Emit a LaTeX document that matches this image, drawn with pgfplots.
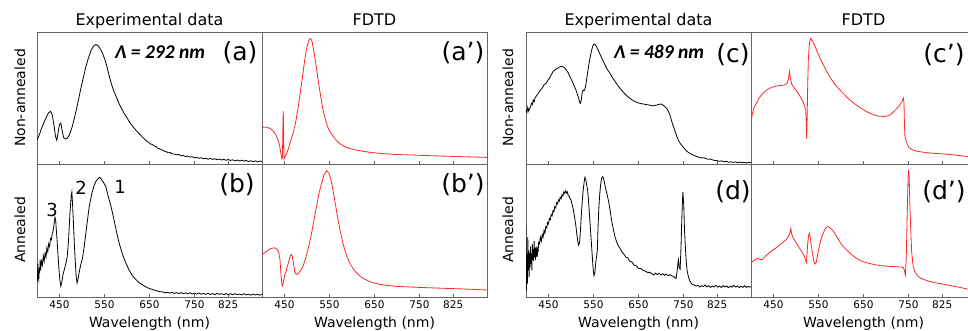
\documentclass[border=0pt]{standalone}
\usepackage{fontspec}
\setmainfont{DejaVu Sans}
\newfontfamily\carl{Carlito}
\usepackage{pgfplots}
\pgfplotsset{compat=1.18}
\definecolor{fr}{gray}{0.4}
\definecolor{fdtd}{rgb}{1,0.15,0.15}
\pgfplotsset{
 panel/.style={scale only axis, width=225pt, height=132pt, xmin=400, xmax=900, ymin=0, ymax=1,
   ytick=\empty, xtick={450,550,650,750,825}, xtick pos=left, tick align=inside, major tick length=3pt,
   axis line style={fr, line width=0.7pt}, tick style={fr, line width=0.6pt}, anchor=south west,
   tick label style={font=\fontsize{10.5}{12}\selectfont},
   /pgf/number format/assume math mode=true, /pgf/number format/1000 sep={}},
 top/.style={panel, xticklabels=\empty},
 bot/.style={panel, height=133pt},
 exp/.style={black, line width=0.8pt},
 sim/.style={fdtd, line width=0.8pt},
}
\begin{document}
\begin{tikzpicture}
% ---------- (a)
\begin{axis}[top, at={(37pt,166pt)}]
\addplot[exp] coordinates {(400,0.18)(405,0.22)(410,0.27)(415,0.31)(420,0.35)(425,0.385)(430,0.40)(434,0.37)(438,0.29)(441,0.21)(444,0.18)(447,0.24)(450,0.30)(453,0.31)(456,0.25)(459,0.20)(463,0.19)(467,0.195)(472,0.22)(478,0.28)(484,0.36)(490,0.45)(496,0.55)(502,0.64)(508,0.73)(514,0.80)(520,0.86)(526,0.895)(531,0.905)(536,0.895)(541,0.87)(546,0.835)(551,0.79)(556,0.73)(561,0.66)(566,0.60)(571,0.55)(576,0.51)(582,0.46)(588,0.42)(594,0.38)(600,0.35)(607,0.31)(614,0.28)(620,0.255)(627,0.23)(634,0.205)(640,0.185)(644,0.172)(648,0.165)(652,0.152)(656,0.148)(660,0.138)(664,0.132)(668,0.12)(672,0.115)(676,0.108)(680,0.104)(684,0.095)(688,0.092)(692,0.085)(696,0.087)(700,0.078)(705,0.075)(710,0.07)(715,0.072)(720,0.062)(725,0.064)(730,0.057)(735,0.06)(740,0.052)(745,0.055)(750,0.047)(755,0.05)(760,0.043)(765,0.047)(770,0.04)(775,0.044)(780,0.036)(785,0.042)(790,0.035)(795,0.04)(800,0.032)(805,0.038)(810,0.03)(815,0.036)(820,0.028)(825,0.034)(830,0.027)(835,0.032)(840,0.024)(845,0.03)(850,0.023)(855,0.029)(860,0.022)(865,0.027)(870,0.018)(875,0.025)(880,0.017)(885,0.024)(890,0.016)(895,0.022)(900,0.018)};
\end{axis}
% ---------- (a')
\begin{axis}[top, at={(262pt,166pt)}]
\addplot[sim] coordinates {(400,0.28)(410,0.278)(418,0.27)(425,0.25)(430,0.225)(435,0.19)(439,0.14)(442,0.08)(444,0.04)(445.5,0.05)(446.5,0.30)(447.3,0.40)(448,0.25)(449,0.04)(451,0.055)(455,0.08)(460,0.13)(465,0.19)(470,0.245)(475,0.32)(480,0.42)(485,0.54)(490,0.66)(495,0.79)(500,0.89)(505,0.945)(508,0.95)(511,0.93)(515,0.86)(520,0.75)(525,0.63)(530,0.52)(535,0.42)(540,0.35)(545,0.29)(550,0.25)(558,0.21)(566,0.175)(575,0.15)(585,0.13)(595,0.118)(610,0.105)(630,0.093)(650,0.085)(670,0.078)(700,0.072)(750,0.066)(800,0.06)(850,0.055)(900,0.05)};
\end{axis}
% ---------- (b)
\begin{axis}[bot, at={(37pt,33pt)}]
\addplot[exp] coordinates {(400,0.20)(401,0.12)(402,0.25)(403,0.15)(404,0.13)(405,0.22)(406,0.18)(407,0.28)(408,0.20)(410,0.27)(412,0.24)(414,0.31)(416,0.27)(418,0.33)(420,0.30)(422,0.37)(424,0.34)(426,0.40)(428,0.38)(430,0.44)(432,0.43)(434,0.48)(436,0.50)(438,0.55)(440,0.60)(441.5,0.58)(443,0.50)(445,0.41)(447,0.30)(449,0.20)(451,0.12)(453,0.08)(455,0.11)(458,0.17)(461,0.21)(464,0.25)(467,0.30)(470,0.42)(473,0.62)(476,0.76)(477.5,0.79)(479,0.70)(481,0.55)(483,0.40)(485,0.27)(487,0.16)(489,0.105)(491,0.13)(494,0.19)(497,0.24)(501,0.29)(505,0.38)(510,0.52)(516,0.68)(522,0.78)(527,0.84)(531,0.87)(536,0.89)(540,0.90)(544,0.88)(548,0.86)(553,0.83)(558,0.76)(563,0.70)(568,0.63)(573,0.55)(578,0.47)(583,0.40)(590,0.32)(597,0.26)(605,0.20)(612,0.16)(620,0.13)(628,0.105)(635,0.09)(645,0.07)(655,0.058)(665,0.048)(672,0.04)(680,0.038)(685,0.031)(690,0.036)(695,0.029)(700,0.035)(705,0.027)(710,0.033)(715,0.026)(720,0.033)(725,0.025)(730,0.031)(735,0.024)(740,0.032)(745,0.023)(750,0.029)(755,0.022)(760,0.03)(765,0.021)(770,0.027)(775,0.02)(780,0.028)(785,0.019)(790,0.026)(795,0.018)(800,0.027)(805,0.02)(810,0.025)(815,0.017)(820,0.026)(825,0.018)(830,0.024)(835,0.016)(840,0.025)(845,0.017)(850,0.022)(855,0.015)(860,0.024)(865,0.016)(870,0.021)(875,0.014)(880,0.022)(885,0.015)(890,0.02)(895,0.014)(900,0.019)};
\end{axis}
% ---------- (b')
\begin{axis}[bot, at={(262pt,33pt)}]
\addplot[sim] coordinates {(400,0.316)(410,0.345)(420,0.365)(428,0.37)(433,0.36)(437,0.34)(440,0.28)(442,0.18)(444,0.10)(445.5,0.083)(447,0.10)(450,0.16)(454,0.20)(458,0.25)(462,0.30)(465,0.32)(467,0.31)(470,0.25)(473,0.19)(476,0.17)(480,0.175)(486,0.20)(491,0.23)(497,0.29)(503,0.37)(509,0.46)(514,0.55)(520,0.66)(526,0.77)(532,0.85)(538,0.92)(544,0.95)(549,0.93)(554,0.87)(558,0.80)(563,0.70)(568,0.60)(573,0.51)(580,0.40)(588,0.31)(595,0.255)(605,0.20)(615,0.165)(625,0.14)(640,0.115)(655,0.10)(670,0.09)(700,0.08)(750,0.072)(800,0.066)(850,0.06)(900,0.053)};
\end{axis}
% ---------- (c)
\begin{axis}[top, at={(526pt,166pt)}]
\addplot[exp] coordinates {(400,0.41)(402,0.39)(404,0.43)(406,0.40)(408,0.42)(410,0.43)(412,0.46)(414,0.45)(416,0.485)(418,0.47)(420,0.50)(424,0.52)(428,0.54)(432,0.56)(436,0.575)(440,0.60)(444,0.61)(448,0.63)(452,0.65)(456,0.675)(460,0.70)(465,0.715)(470,0.725)(475,0.735)(479,0.74)(483,0.735)(487,0.725)(490,0.71)(494,0.69)(498,0.66)(502,0.63)(506,0.60)(510,0.57)(514,0.53)(517,0.50)(519,0.47)(521,0.46)(523,0.49)(525,0.545)(527,0.56)(529,0.555)(531,0.57)(533,0.60)(536,0.67)(539,0.74)(542,0.80)(545,0.85)(548,0.89)(551,0.91)(554,0.905)(558,0.88)(562,0.85)(566,0.82)(570,0.79)(575,0.755)(580,0.72)(586,0.69)(592,0.655)(598,0.625)(605,0.59)(612,0.56)(620,0.53)(628,0.505)(636,0.485)(644,0.47)(652,0.46)(660,0.455)(668,0.45)(676,0.445)(682,0.44)(688,0.445)(694,0.45)(700,0.455)(705,0.445)(710,0.43)(715,0.41)(720,0.37)(725,0.31)(730,0.26)(735,0.21)(740,0.17)(745,0.145)(750,0.125)(755,0.105)(760,0.09)(765,0.08)(770,0.07)(775,0.063)(780,0.057)(785,0.05)(790,0.045)(795,0.048)(800,0.04)(805,0.036)(810,0.038)(815,0.03)(820,0.027)(825,0.025)(830,0.02)(835,0.024)(840,0.016)(845,0.02)(850,0.013)(855,0.017)(860,0.012)(865,0.016)(870,0.01)(875,0.015)(880,0.009)(885,0.013)(890,0.008)(895,0.013)(900,0.01)};
\end{axis}
% ---------- (c')
\begin{axis}[top, at={(751pt,166pt)}]
\addplot[sim] coordinates {(400,0.32)(403,0.38)(407,0.43)(412,0.46)(418,0.50)(425,0.53)(434,0.56)(445,0.58)(456,0.59)(467,0.595)(475,0.60)(480,0.61)(483,0.64)(485.5,0.70)(487,0.66)(490,0.61)(494,0.585)(500,0.56)(506,0.53)(511,0.50)(516,0.47)(519,0.44)(521.5,0.41)(523,0.30)(523.7,0.19)(524.5,0.30)(526,0.60)(527.5,0.80)(530,0.92)(532.6,0.95)(536,0.935)(540,0.91)(546,0.86)(552,0.81)(558,0.77)(564,0.73)(570,0.69)(578,0.645)(586,0.605)(595,0.57)(605,0.535)(615,0.50)(625,0.47)(635,0.445)(645,0.42)(655,0.40)(665,0.383)(675,0.37)(685,0.362)(695,0.36)(705,0.365)(712,0.38)(718,0.40)(724,0.42)(730,0.445)(735,0.47)(738.5,0.50)(740,0.46)(741,0.30)(742,0.21)(745,0.17)(750,0.13)(757,0.11)(765,0.10)(775,0.093)(790,0.086)(810,0.08)(835,0.074)(860,0.066)(883,0.055)(900,0.045)};
\end{axis}
% ---------- (d)
\begin{axis}[bot, at={(526pt,33pt)}]
\addplot[exp] coordinates {(400,0.53)(401,0.05)(402,0.30)(403,0.10)(404,0.45)(405,0.20)(406,0.35)(407,0.15)(408,0.33)(409,0.22)(410,0.38)(411,0.25)(412,0.32)(413,0.20)(414,0.40)(415,0.28)(416,0.36)(417,0.27)(418,0.42)(419,0.30)(420,0.37)(421,0.28)(422,0.35)(423,0.33)(424,0.38)(425,0.30)(426,0.37)(427,0.34)(428,0.41)(430,0.40)(432,0.45)(434,0.42)(436,0.47)(438,0.45)(440,0.50)(442,0.48)(444,0.53)(446,0.52)(448,0.56)(450,0.55)(452,0.59)(454,0.58)(456,0.62)(458,0.61)(460,0.65)(462,0.64)(464,0.68)(466,0.67)(468,0.71)(470,0.70)(472,0.73)(474,0.72)(476,0.75)(478,0.74)(480,0.77)(482,0.76)(484,0.79)(486,0.78)(488,0.80)(490,0.78)(492,0.79)(494,0.76)(496,0.76)(498,0.74)(500,0.73)(502,0.70)(505,0.66)(508,0.60)(511,0.53)(513,0.47)(515,0.42)(517,0.39)(519,0.41)(521,0.50)(523,0.62)(525,0.72)(527,0.80)(529,0.86)(531,0.90)(533,0.88)(535,0.84)(537,0.80)(539,0.72)(541,0.62)(543,0.52)(545,0.42)(547,0.32)(549,0.22)(551,0.16)(553,0.18)(555,0.26)(557,0.31)(558.5,0.35)(560,0.52)(562,0.68)(564,0.78)(566,0.85)(568,0.89)(570,0.905)(572,0.895)(575,0.85)(578,0.80)(581,0.76)(584,0.71)(587,0.65)(590,0.58)(594,0.51)(598,0.45)(602,0.41)(606,0.38)(610,0.36)(614,0.335)(618,0.32)(622,0.30)(626,0.295)(630,0.27)(635,0.265)(640,0.24)(645,0.235)(650,0.215)(655,0.215)(660,0.20)(665,0.195)(670,0.185)(675,0.185)(680,0.175)(684,0.165)(688,0.18)(692,0.168)(696,0.178)(700,0.165)(704,0.175)(708,0.163)(712,0.172)(716,0.16)(720,0.168)(724,0.158)(728,0.155)(731,0.145)(733.5,0.14)(736,0.20)(738.5,0.28)(740.5,0.22)(742.5,0.21)(744.5,0.38)(746.5,0.62)(748.5,0.79)(750.5,0.70)(752,0.52)(754,0.38)(756,0.27)(758,0.20)(761,0.15)(764,0.12)(767,0.105)(770,0.095)(774,0.09)(778,0.082)(782,0.088)(786,0.075)(790,0.085)(794,0.078)(798,0.09)(802,0.076)(806,0.085)(810,0.072)(814,0.083)(818,0.075)(822,0.088)(826,0.074)(830,0.082)(834,0.072)(838,0.086)(842,0.076)(846,0.083)(850,0.07)(854,0.082)(858,0.074)(862,0.088)(866,0.075)(870,0.083)(874,0.071)(878,0.08)(882,0.073)(886,0.085)(890,0.072)(894,0.08)(898,0.074)(900,0.078)};
\end{axis}
% ---------- (d')
\begin{axis}[bot, at={(751pt,33pt)}]
\addplot[sim] coordinates {(400,0.26)(405,0.27)(410,0.285)(415,0.29)(420,0.283)(425,0.28)(430,0.30)(435,0.316)(445,0.345)(456,0.37)(467,0.40)(478,0.43)(484,0.46)(487,0.49)(488.5,0.516)(490,0.48)(493,0.45)(500,0.41)(507,0.37)(513,0.34)(518,0.31)(521,0.28)(523,0.26)(524,0.30)(526,0.40)(528,0.46)(529.5,0.48)(531,0.46)(533,0.41)(536,0.34)(539,0.28)(542,0.248)(545,0.26)(548,0.32)(553,0.40)(558,0.46)(563,0.50)(567,0.525)(571,0.53)(576,0.52)(582,0.50)(590,0.455)(598,0.41)(606,0.375)(615,0.345)(625,0.315)(635,0.29)(645,0.27)(660,0.255)(675,0.243)(690,0.235)(710,0.23)(730,0.226)(738,0.224)(741,0.20)(743,0.165)(745,0.30)(747,0.60)(749,0.90)(750,0.955)(751.5,0.90)(753,0.70)(755,0.50)(757,0.34)(760,0.24)(764,0.19)(770,0.16)(777,0.14)(790,0.125)(805,0.11)(821,0.10)(840,0.088)(860,0.075)(884,0.058)(900,0.05)};
\end{axis}
% ---------- texts
\def\tf{\fontsize{16}{17}\selectfont}
\def\lf{\fontsize{14}{15}\selectfont}
\def\pf{\fontsize{25}{26}\selectfont}
\def\nf{\fontsize{18}{19}\selectfont}
\def\gf{\carl\bfseries\itshape\fontsize{19.5}{20}\selectfont}
\node[anchor=base] at (149.5pt,304pt) {\tf Experimental data};
\node[anchor=base] at (374.5pt,304pt) {\tf FDTD};
\node[anchor=base] at (638.5pt,304pt) {\tf Experimental data};
\node[anchor=base] at (863.5pt,304pt) {\tf FDTD};
\foreach \xx in {149.5,374.5,638.5,863.5}{\node[anchor=base] at (\xx pt,2.5pt) {\lf Wavelength (nm)};}
\node[rotate=90] at (20pt,232pt) {\lf Non-annealed};
\node[rotate=90] at (20pt,100pt) {\lf Annealed};
\node[rotate=90] at (508pt,232pt) {\lf Non-annealed};
\node[rotate=90] at (508pt,100pt) {\lf Annealed};
\node at (160pt,278pt) {\gf Λ = 292 nm};
\node at (659pt,278pt) {\gf Λ = 489 nm};
\node at (240pt,277pt) {\pf (a)};
\node at (463pt,277pt) {\pf (a’)};
\node at (237pt,145pt) {\pf (b)};
\node at (463pt,145pt) {\pf (b’)};
\node at (733pt,275pt) {\pf (c)};
\node at (944pt,275pt) {\pf (c’)};
\node at (733pt,138pt) {\pf (d)};
\node at (944pt,138pt) {\pf (d’)};
\node at (52pt,120pt) {\nf 3};
\node at (81pt,142pt) {\nf 2};
\node at (120pt,143pt) {\nf 1};
\pgfresetboundingbox
\path[use as bounding box] (0,0) rectangle (968pt,330pt);
\end{tikzpicture}
\end{document}
